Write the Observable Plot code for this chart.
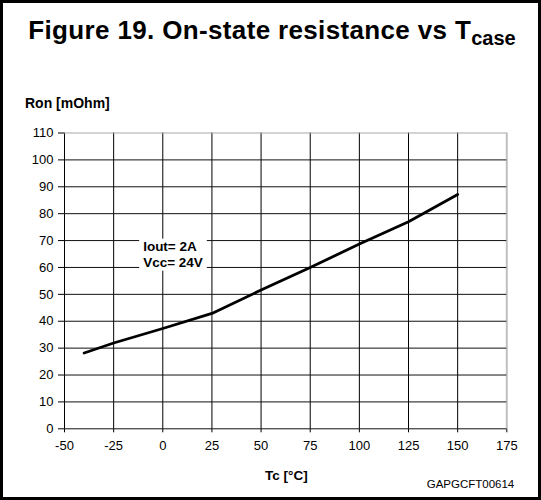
<!DOCTYPE html>
<html>
<head>
<meta charset="utf-8">
<script src="https://cdn.jsdelivr.net/npm/d3@7"></script>
<script src="https://cdn.jsdelivr.net/npm/@observablehq/plot@0.6"></script>
<style>
  html, body { margin: 0; padding: 0; background: #fff; }
  #page { position: relative; width: 541px; height: 500px; overflow: hidden; background: #fff;
          font-family: "Liberation Sans", Arial, Helvetica, sans-serif; color: #000; }
  #frame { position: absolute; left: 0; top: 0; width: 541px; height: 500px; box-sizing: border-box;
           border: 3px solid #000; pointer-events: none; z-index: 5; }
  .lbl { position: absolute; white-space: nowrap; line-height: 1; }
  #title { left: 28.3px; top: 16.7px; font-size: 26px; font-weight: bold; letter-spacing: 0.35px; }
  #title .sub { font-size: 20px; letter-spacing: 0; position: relative; top: 6.6px; }
  #ylabel { left: 25px; top: 96.4px; font-size: 14px; font-weight: bold; }
  #xlabel { left: 265px; top: 468.6px; font-size: 13.5px; font-weight: bold; }
  #code { left: 426.7px; top: 478.6px; font-size: 11.5px; }
  #chart { position: absolute; left: 0; top: 0; }
</style>
</head>
<body>
<div id="page">
  <div id="chart"></div>
  <div class="lbl" id="title">Figure 19. On-state resistance vs T<span class="sub">case</span></div>
  <div class="lbl" id="ylabel">Ron [mOhm]</div>
  <div class="lbl" id="xlabel">Tc [°C]</div>
  <div class="lbl" id="code">GAPGCFT00614</div>
  <div id="frame"></div>
</div>
<script>
// Data
const tempC = [-40, -25, 0, 25, 50, 75, 100, 125, 150];
const ronMOhm = [28.2, 31.9, 37.3, 42.9, 51.6, 60.0, 68.7, 77.0, 87.1];
const xTicks = [-50, -25, 0, 25, 50, 75, 100, 125, 150, 175];
const yTicks = [0, 10, 20, 30, 40, 50, 60, 70, 80, 90, 100, 110];
const noteX = [-10];
const noteY = [65];
const noteText = ["Iout= 2A\nVcc= 24V"];

const series = tempC.map((t, i) => ({t, r: ronMOhm[i]}));
const notes = noteText.map((s, i) => ({x: noteX[i], y: noteY[i], s}));

const plot = Plot.plot({
  width: 541,
  height: 500,
  marginLeft: 64,
  marginRight: 34.7,
  marginTop: 132.5,
  marginBottom: 71.7,
  style: {fontFamily: '"Liberation Sans", Arial, sans-serif', fontSize: "13px", background: "transparent", color: "#000"},
  x: {domain: [-50, 175], ticks: xTicks, tickSize: 4, tickPadding: 8, label: null, tickFormat: d => String(d)},
  y: {domain: [0, 110], ticks: yTicks, tickSize: 6, tickPadding: 5, label: null, tickFormat: d => String(d)},
  marks: [
    Plot.ruleX(xTicks.slice(0, -1), {stroke: "#000", strokeWidth: 1}),
    Plot.ruleX(xTicks.slice(-1), {stroke: "#c0c0c0", strokeWidth: 2}),
    Plot.ruleY(yTicks.slice(0, -1), {stroke: "#111", strokeWidth: 1}),
    Plot.ruleY(yTicks.slice(-1), {stroke: "#a8a8a8", strokeWidth: 1}),
    Plot.line(series, {x: "t", y: "r", stroke: "#000", strokeWidth: 2.8}),
    Plot.text(notes, {x: "x", y: "y", text: "s", textAnchor: "start", lineAnchor: "middle",
                      fontWeight: "bold", fontSize: 13.5, lineHeight: 1.185, fill: "#000"})
  ]
});
document.getElementById("chart").appendChild(plot);

// white box behind the annotation
d3.select(plot).selectAll('g[aria-label="text"] text').each(function() {
  const bb = this.getBBox();
  const tr = this.getAttribute("transform");
  const r = document.createElementNS("http://www.w3.org/2000/svg", "rect");
  r.setAttribute("x", bb.x - 4);
  r.setAttribute("y", bb.y - 0.5);
  r.setAttribute("width", bb.width + 8);
  r.setAttribute("height", bb.height + 1);
  r.setAttribute("fill", "#fff");
  if (tr) r.setAttribute("transform", tr);
  this.parentNode.insertBefore(r, this);
});
</script>
</body>
</html>
